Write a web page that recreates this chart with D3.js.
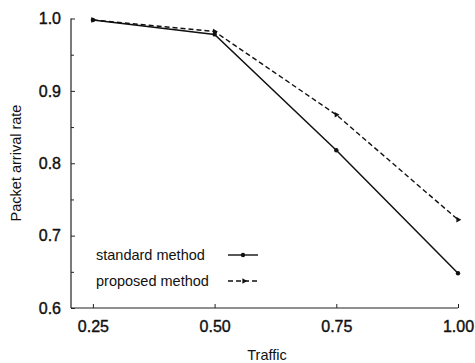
<!DOCTYPE html>
<html>
<head>
<meta charset="utf-8">
<script src="https://cdn.jsdelivr.net/npm/d3@7"></script>
<style>
body{margin:0;background:#fff}
svg text{font-family:"Liberation Sans",Arial,sans-serif;fill:#111}
</style>
</head>
<body>
<svg width="475" height="363"></svg>
<script>
var traffic=[0.25,0.50,0.75,1.00]
var standard=[0.998,0.978,0.818,0.648]
var proposed=[0.998,0.982,0.867,0.722]
var xTicks=[0.25,0.50,0.75,1.00]
var yTicks=[0.6,0.7,0.8,0.9,1.0]
var yMinor=[0.65,0.75,0.85,0.95]
var seriesNames=['standard method','proposed method']

var svg=d3.select('svg')
var x=d3.scaleLinear().domain([0.205,1.0]).range([71,458]),
    y=d3.scaleLinear().domain([0.6,1.0]).range([308,18.5])

// axes, ticks drawn inward
var gx=svg.append('g').attr('transform','translate(0,308)')
    .call(d3.axisBottom(x).tickValues(xTicks).tickSize(-4).tickPadding(13).tickFormat(d3.format('.2f')))
var gy=svg.append('g').attr('transform','translate(71,0)')
    .call(d3.axisLeft(y).tickValues(yTicks).tickSize(-4).tickPadding(10).tickFormat(d3.format('.1f')))
svg.append('g').attr('transform','translate(71,0)')
    .call(d3.axisLeft(y).tickValues(yMinor).tickSize(-3).tickFormat(''))
    .select('.domain').remove()
svg.selectAll('.domain').attr('stroke','#222').attr('stroke-width',1.2)
svg.selectAll('.tick line').attr('stroke','#222')
gx.selectAll('.domain').attr('d','M71,0H458')
gy.selectAll('.domain').attr('d','M0,308V18.5')
svg.selectAll('.tick text').style('font-size','16px').attr('fill','#111')
    .attr('stroke','#111').attr('stroke-width',0.4)

// axis titles
svg.append('text').attr('x',267).attr('y',360).attr('text-anchor','middle')
    .style('font-size','14.5px').text('Traffic')
svg.append('text').attr('transform','translate(21,163) rotate(-90)').attr('text-anchor','middle')
    .style('font-size','14.5px').text('Packet arrival rate')

var line=d3.line().x(function(d){return x(d[0])}).y(function(d){return y(d[1])})
var sData=traffic.map(function(t,i){return [t,standard[i]]}),
    pData=traffic.map(function(t,i){return [t,proposed[i]]})

svg.append('path').attr('d',line(pData)).attr('fill','none').attr('stroke','#111')
    .attr('stroke-width',1.4).attr('stroke-dasharray','5,3')
svg.append('path').attr('d',line(sData)).attr('fill','none').attr('stroke','#111')
    .attr('stroke-width',1.5)

var tri=d3.symbol().type(d3.symbolTriangle).size(14)
svg.selectAll('.pp').data(pData).enter().append('path')
    .attr('d',tri).attr('transform',function(d){return 'translate('+x(d[0])+','+y(d[1])+') rotate(90)'})
    .attr('fill','#111')
svg.selectAll('.sp').data(sData).enter().append('circle')
    .attr('cx',function(d){return x(d[0])}).attr('cy',function(d){return y(d[1])})
    .attr('r',2.2).attr('fill','#111')

// legend
var legend=svg.selectAll('g.legend').data(seriesNames).enter().append('g')
    .attr('transform',function(d,i){return 'translate(96,'+(255+i*26)+')'})
legend.append('text').attr('dy','.35em').style('font-size','14.5px').text(String)
legend.append('line').attr('x1',132).attr('x2',162).attr('stroke','#111')
    .attr('stroke-width',1.4).attr('stroke-dasharray',function(d,i){return i?'5,3':null})
legend.each(function(d,i){
    var g=d3.select(this)
    if(i) g.append('path').attr('d',tri).attr('transform','translate(148,0) rotate(90)').attr('fill','#111')
    else g.append('circle').attr('cx',147).attr('r',2.2).attr('fill','#111')
})
</script>
</body>
</html>
